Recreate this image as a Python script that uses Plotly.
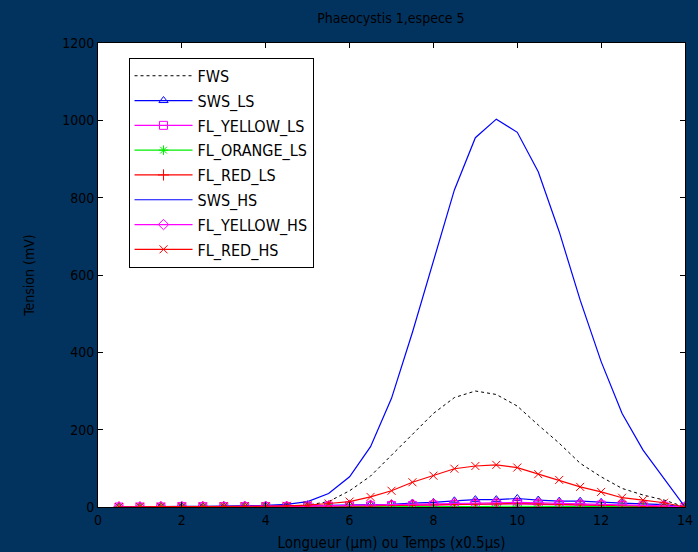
import plotly.graph_objects as go

x_vals = [0.5, 1.0, 1.5, 2.0, 2.5, 3.0, 3.5, 4.0, 4.5, 5.0, 5.5, 6.0, 6.5, 7.0,
          7.5, 8.0, 8.5, 9.0, 9.5, 10.0, 10.5, 11.0, 11.5, 12.0, 12.5, 13.0, 13.5, 14.0]

fws = [0, 0, 0, 0, 0, 1, 1, 1, 2, 5, 14, 42, 80, 134,
       190, 242, 283, 300, 291, 261, 212, 165, 113, 78, 48, 31, 18, 0]
sws_ls = [0, 0, 1, 1, 1, 1, 2, 2, 2, 3, 4, 5, 6, 7,
          10, 12, 16, 19, 19, 22, 18, 15, 15, 12, 10, 8, 6, 0]
fl_yellow_ls = [0, 0, 0, 1, 1, 1, 1, 1, 1, 2, 2, 3, 3, 4,
                4, 5, 6, 7, 8, 8, 7, 6, 5, 5, 4, 3, 2, 0]
fl_orange_ls = [0, 0, 0, 0, 0, 0, 0, 0, 0, 0, 0, 1, 1, 1,
                1, 1, 1, 1, 2, 2, 1, 1, 1, 1, 1, 1, 0, 0]
fl_red_ls = [0, 0, 0, 0, 1, 1, 1, 1, 1, 2, 2, 3, 3, 4,
             5, 6, 7, 8, 8, 9, 8, 7, 6, 5, 4, 3, 2, 0]
sws_hs = [0, 1, 1, 2, 2, 3, 3, 4, 7, 14, 35, 78, 156, 281,
          452, 636, 820, 955, 1003, 969, 867, 712, 535, 376, 242, 147, 74, 0]
fl_yellow_hs = [0, 0, 1, 1, 1, 1, 2, 2, 2, 3, 3, 4, 5, 6,
                7, 8, 10, 11, 12, 12, 11, 9, 8, 7, 5, 4, 3, 0]
fl_red_hs = [0, 1, 1, 1, 1, 2, 2, 2, 3, 5, 9, 14, 26, 42,
             64, 81, 99, 106, 109, 102, 85, 70, 52, 39, 24, 18, 11, 0]

BG = "#02335f"
FONT = "DejaVu Sans Condensed, Liberation Sans, sans-serif"

series = [
    ("FWS", fws, "black", "dot", None),
    ("SWS_LS", sws_ls, "blue", "solid", "triangle-up-open"),
    ("FL_YELLOW_LS", fl_yellow_ls, "magenta", "solid", "square-open"),
    ("FL_ORANGE_LS", fl_orange_ls, "#00ee00", "solid", "asterisk-open"),
    ("FL_RED_LS", fl_red_ls, "red", "solid", "cross-thin-open"),
    ("SWS_HS", sws_hs, "blue", "solid", None),
    ("FL_YELLOW_HS", fl_yellow_hs, "magenta", "solid", "diamond-open"),
    ("FL_RED_HS", fl_red_hs, "red", "solid", "x-thin-open"),
]

fig = go.Figure()
for i, (name, vals, color, dash, symbol) in enumerate(series):
    mode = "lines+markers" if symbol else "lines"
    kw = {}
    if symbol:
        kw["marker"] = dict(symbol=symbol, size=8, color=color,
                            line=dict(color=color, width=1))
    fig.add_trace(go.Scatter(
        x=x_vals, y=vals, name=name, mode=mode,
        line=dict(color=color, width=1.2 if dash == "solid" else 1, dash=dash),
        legendgroup="g%d" % i, **kw))

fig.update_layout(
    width=698, height=552,
    paper_bgcolor=BG, plot_bgcolor="white",
    margin=dict(l=98, r=13, t=43, b=45, autoexpand=False),
    font=dict(family=FONT, size=14, color="black"),
    title=dict(text="Phaeocystis 1,espece 5", x=0.56, xref="container",
               y=1 - 18 / 552, yref="container", yanchor="middle",
               font=dict(family=FONT, size=14, color="black")),
    showlegend=True,
    legend=dict(x=0.052, y=0.968, xanchor="left", yanchor="top",
                bgcolor="white", bordercolor="black", borderwidth=1,
                font=dict(family=FONT, size=16, color="black"),
                traceorder="grouped", tracegroupgap=1, itemwidth=58),
    xaxis=dict(range=[0, 14], tickvals=[0, 2, 4, 6, 8, 10, 12, 14],
               ticks="inside", ticklen=5, tickcolor="black",
               showline=True, linecolor="black", linewidth=1, mirror="ticks",
               showgrid=False, zeroline=False,
               title=dict(text="Longueur (µm) ou Temps (x0.5µs)", standoff=12,
                          font=dict(size=15))),
    yaxis=dict(range=[0, 1200], tickvals=[0, 200, 400, 600, 800, 1000, 1200],
               ticks="inside", ticklen=5, tickcolor="black",
               showline=True, linecolor="black", linewidth=1, mirror="ticks",
               showgrid=False, zeroline=False,
               title=dict(text="Tension (mV)", standoff=24, font=dict(size=14))),
)

fig.write_html("out.html")
